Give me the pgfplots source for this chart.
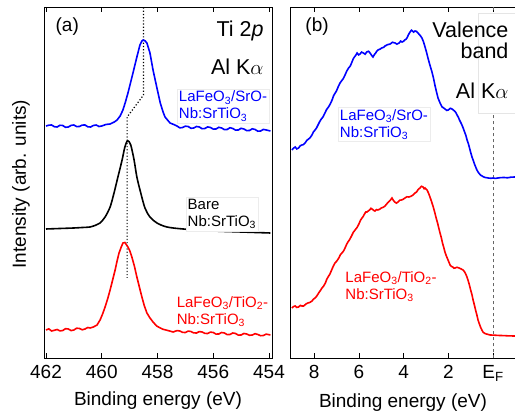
\documentclass[border=0pt]{standalone}
\usepackage{pgfplots}
\pgfplotsset{compat=1.18}
\usepackage{fontspec}
\setmainfont{Liberation Sans}
\newcommand{\fbig}{\fontsize{19}{22}\selectfont}
\newcommand{\flab}{\fontsize{21.5}{24}\selectfont}
\newcommand{\fsmall}{\fontsize{15}{17}\selectfont}
\pgfplotsset{
  panel/.style={
    scale only axis, height=351pt, axis line style={line width=0.8pt},
    x dir=reverse, ymin=0, ymax=351, ytick=\empty,
    tick align=inside, major tick length=5pt,
    xtick pos=both, every tick/.style={black, line width=0.8pt},
    xticklabel style={font=\fbig, yshift=-3pt},
    xlabel style={font=\fbig, yshift=-6pt},
  },
  curve/.style={line width=1.6pt},
}
\begin{document}
\begin{tikzpicture}
\useasboundingbox (0,0) rectangle (515pt,414pt);
\node[rotate=90, anchor=base, font=\fbig] at (26pt,230pt) {Intensity (arb. units)};

% (a) Ti 2p
\begin{axis}[panel, at={(44pt,55.5pt)}, anchor=south west, width=228pt,
  xmin=453.892, xmax=462.072,
  xtick={454,456,458,460,462}, xticklabels={454,456,458,460,462},
  xlabel={Binding energy (eV)}]
\addplot[black, dotted, line width=1.2pt] coordinates {(458.5,351)(458.5,263.5)(459.09,241.5)(459.09,80.5)};
\addplot[blue, curve] coordinates {
(462.0,232.5)(461.9,233.3)(461.8,233.5)(461.7,231.8)(461.6,231.5)(461.5,233.2)(461.4,233)(461.3,231.2)(461.2,231.5)(461.1,233.1)
(461.0,233.5)(460.9,231.9)(460.8,232)(460.7,233.4)(460.6,233.5)(460.5,231.7)(460.4,231.5)(460.3,233)(460.2,233.5)(460.1,232)
(460.0,232.5)(459.85,234)(459.7,234.5)(459.55,236.5)(459.45,238.5)(459.34,242.5)(459.24,248.5)(459.15,256.5)(459.06,265.5)
(458.97,275.5)(458.88,285.5)(458.81,293.5)(458.74,301.5)(458.63,313.5)(458.56,317.5)(458.51,318.5)(458.44,317.5)(458.38,315.5)
(458.27,305.5)(458.16,288.5)(458.02,270.5)(457.9,255.5)(457.8,246.5)(457.73,241.5)(457.55,235.5)(457.4,233.8)(457.3,232.5)
(457.2,230.6)(457.1,231)(457.0,232.3)(456.9,232)(456.8,230.2)(456.7,230.5)(456.6,232)(456.5,231.5)(456.4,229.8)(456.3,230)
(456.2,231.6)(456.1,231)(456.0,229.4)(455.9,229.5)(455.8,231.2)(455.7,230.5)(455.6,228.9)(455.5,229)(455.4,230.8)(455.3,230)
(455.2,228.4)(455.1,228.5)(455.0,230.2)(454.9,229.5)(454.8,227.9)(454.7,228)(454.6,229.7)(454.5,229)(454.4,227.3)(454.3,227.5)
(454.2,229.1)(454.1,228.5)(453.95,227.5)};
\addplot[black, curve, smooth] coordinates {
(462.0,129.5)(461.5,130)(461.0,130.5)(460.7,131)(460.42,131.5)(460.2,133.5)(460.06,135.5)(459.88,141.5)(459.7,151.5)
(459.56,165.5)(459.42,181.5)(459.27,198.5)(459.17,211.5)(459.07,217.8)(458.96,213.5)(458.84,198.5)(458.74,181.5)(458.6,165.5)
(458.45,150.5)(458.27,141.5)(458.02,135.5)(457.66,131.5)(457.08,129.5)(456.0,127.5)(455.0,126.5)(453.95,125.5)};
\addplot[red, curve] coordinates {
(462.0,28.5)(461.9,29.6)(461.8,27.5)(461.7,28.2)(461.6,29)(461.5,27.6)(461.4,28)(461.3,29.8)(461.2,29.5)(461.1,27.9)
(461.0,28.5)(460.9,30.3)(460.8,30)(460.7,28.7)(460.6,29.5)(460.5,31)(460.42,30.5)(460.3,31.5)(460.17,33.5)(460.06,38.5)
(459.97,44.5)(459.88,51.5)(459.79,59.5)(459.7,68.5)(459.61,78.5)(459.52,88.5)(459.45,97.5)(459.38,105.5)(459.3,111.5)
(459.24,115.5)(459.17,116)(459.11,113.5)(459.06,111.5)(458.99,107.5)(458.92,101.5)(458.83,92.5)(458.74,81.5)(458.65,71.5)
(458.56,61.5)(458.47,52.5)(458.38,45.5)(458.27,40.5)(458.16,36.5)(458.03,32.5)(457.9,30.5)(457.8,29.2)(457.7,28.5)(457.55,27.4)
(457.44,26.5)(457.3,27.9)(457.2,27.5)(457.1,26.1)(457.0,26)(456.9,27.4)(456.8,27)(456.7,25.6)(456.6,25.5)(456.5,26.9)
(456.4,26.5)(456.3,25.1)(456.2,25)(456.1,26.4)(456.0,26)(455.9,24.4)(455.8,24.5)(455.7,26)(455.6,25.5)(455.5,23.9)
(455.4,24)(455.3,25.5)(455.2,25)(455.1,23.4)(455.0,23.5)(454.9,25)(454.8,24.5)(454.7,23.2)(454.6,23.5)(454.5,24.8)
(454.4,24)(454.3,22.8)(454.2,23)(454.1,24.4)(453.95,23.5)};
\node[anchor=base west, font=\fbig] at (axis cs:461.78,326.5) {(a)};
\node[anchor=base east, font=\flab] at (axis cs:454.07,321.5) {Ti 2\textit{p}};
\node[anchor=base east, font=\flab] at (axis cs:454.07,283.5) {Al K$\alpha$};
\node[font=\fsmall, align=left, text=blue, fill=white, draw=gray!15, inner sep=2pt] at (axis cs:455.65,252.5)
  {LaFeO\textsubscript{3}/SrO-\\Nb:SrTiO\textsubscript{3}};
\node[font=\fsmall, align=left, fill=white, draw=gray!15, inner sep=2pt] at (axis cs:455.69,144.5)
  {Bare\\Nb:SrTiO\textsubscript{3}};
\node[font=\fsmall, align=left, text=red, fill=white, inner sep=1pt] at (axis cs:455.67,47)
  {LaFeO\textsubscript{3}/TiO\textsubscript{2}-\\Nb:SrTiO\textsubscript{3}};
\end{axis}

% (b) Valence band
\begin{axis}[panel, at={(290pt,55.5pt)}, anchor=south west, width=226pt,
  xmin=-1.029, xmax=9.083,
  xtick={0,2,4,6,8}, xticklabels={E\textsubscript{F},2,4,6,8},
  xlabel={Binding energy (eV)}]
\addplot[gray!80!black, dashed, line width=0.7pt] coordinates {(0,0)(0,351)};
\addplot[blue, curve] coordinates {
(9.0,208.5)(8.93,210.2)(8.85,211.5)(8.78,209.6)(8.7,210.5)(8.62,212.8)(8.55,213.5)(8.48,213.9)(8.41,215.5)(8.33,218.1)
(8.25,219.5)(8.17,221.2)(8.1,223.5)(8.03,226.8)(7.96,228.5)(7.9,230.4)(7.83,233.5)(7.75,237.1)(7.68,239.5)(7.6,241.8)
(7.52,245.5)(7.44,249.2)(7.36,251.5)(7.28,254.6)(7.2,258.5)(7.13,262.9)(7.06,265.5)(7.0,267.7)(6.93,271.5)(6.85,275.3)
(6.78,277.5)(6.7,279.9)(6.62,283.5)(6.54,287.6)(6.46,290.5)(6.38,292.7)(6.31,296.5)(6.25,299.8)(6.2,301.5)(6.14,303.2)
(6.08,305.5)(6.01,303.6)(5.95,304.5)(5.88,306.4)(5.8,305.5)(5.72,304.3)(5.65,306.5)(5.57,307.2)(5.5,305.5)(5.43,303.1)
(5.37,301.5)(5.31,303.8)(5.25,305.5)(5.2,307.3)(5.15,308.5)(5.06,309.3)(4.98,310.5)(4.9,311.1)(4.83,312.5)(4.72,313.8)
(4.6,314.5)(4.5,316.2)(4.38,315.5)(4.3,314.4)(4.2,315.5)(4.13,317.4)(4.07,316.5)(4.0,317.2)(3.95,318.5)(3.9,319.1)
(3.85,320.5)(3.78,323.9)(3.71,326.5)(3.65,328.3)(3.6,327.5)(3.55,326.4)(3.49,327.5)(3.42,327.1)(3.36,325.5)(3.27,323.4)
(3.18,320.5)(3.11,316.7)(3.04,311.5)(2.97,305.9)(2.91,300.5)(2.82,293.2)(2.73,286.5)(2.66,280.1)(2.6,273.5)(2.53,266.8)
(2.46,260.5)(2.37,255.6)(2.28,251.5)(2.22,250.8)(2.15,249.5)(2.07,248.1)(2.0,248.5)(1.91,250.2)(1.83,249.5)(1.77,248.3)
(1.72,247.5)(1.66,245.9)(1.61,243.5)(1.55,241.3)(1.5,238.5)(1.44,235.9)(1.39,233.5)(1.33,230.2)(1.27,226.5)(1.21,222.8)
(1.16,218.5)(1.1,214.6)(1.05,210.5)(1.0,206.2)(0.94,201.5)(0.88,197.8)(0.83,194.5)(0.77,191.2)(0.72,188.5)(0.66,186.2)
(0.6,184.5)(0.55,183.3)(0.49,182.5)(0.42,181.6)(0.35,181)(0.28,180.8)(0.22,180.5)(0.1,180.2)(0.0,180.5)(-0.1,180.1)
(-0.22,180.5)(-0.35,180.9)(-0.5,181)(-0.65,180.7)(-0.8,181.3)(-0.98,181.5)};
\addplot[red, curve] coordinates {
(9.0,50.5)(8.93,51.9)(8.85,52.5)(8.78,51.1)(8.7,51.5)(8.62,53.1)(8.55,52.5)(8.48,52.4)(8.42,53.5)(8.35,54.8)
(8.28,55.5)(8.19,56.1)(8.1,57.5)(8.03,59.4)(7.96,60.5)(7.88,62.6)(7.8,65.5)(7.72,68.1)(7.65,70.5)(7.58,72.4)
(7.5,75.5)(7.44,79.1)(7.38,81.5)(7.3,84.3)(7.22,88.5)(7.14,92.6)(7.07,95.5)(6.98,97.7)(6.9,100.5)(6.83,103.7)
(6.76,105.5)(6.69,107.4)(6.62,110.5)(6.55,114.1)(6.49,116.5)(6.41,119.1)(6.33,122.5)(6.25,126.2)(6.17,128.5)(6.08,131.1)
(6.0,134.5)(5.93,138.2)(5.86,140.5)(5.8,142.3)(5.75,144.5)(5.69,146.6)(5.64,146.5)(5.58,147.6)(5.52,148.5)(5.46,150.2)
(5.41,149.5)(5.34,148.1)(5.28,147.5)(5.21,148.9)(5.15,148.5)(5.07,149.3)(5.0,150.5)(4.91,151.2)(4.83,152.5)(4.75,154.7)
(4.68,156.5)(4.6,158.1)(4.52,160.5)(4.46,158.2)(4.4,156.5)(4.32,155.4)(4.25,156.5)(4.17,158.3)(4.1,158.5)(4.02,159.2)
(3.94,160.5)(3.85,161.7)(3.76,161.5)(3.67,162.2)(3.58,163.5)(3.5,165.3)(3.42,166.5)(3.35,168.9)(3.27,170.5)(3.2,172.2)
(3.13,171.5)(3.08,169.8)(3.04,170.5)(3.0,169.4)(2.95,168.5)(2.88,165.1)(2.82,161.5)(2.76,157.6)(2.7,153.5)(2.65,149.8)
(2.6,145.5)(2.54,140.2)(2.48,135.5)(2.43,130.8)(2.37,125.5)(2.31,120.6)(2.26,115.5)(2.2,110.8)(2.15,106.5)(2.09,102.7)
(2.03,99.5)(1.97,96.2)(1.92,93.5)(1.86,92.1)(1.8,91.5)(1.75,90.3)(1.7,90.5)(1.61,91.2)(1.52,90.5)(1.43,89.6)
(1.34,88.5)(1.28,86.9)(1.22,84.5)(1.17,81.8)(1.12,78.5)(1.06,73.9)(1.0,68.5)(0.94,63.7)(0.89,58.5)(0.83,53.2)
(0.78,48.5)(0.72,43.4)(0.67,38.5)(0.61,34.6)(0.56,31.5)(0.5,28.6)(0.45,26.5)(0.38,25.2)(0.3,24.5)(0.22,24.1)
(0.13,23.5)(0.0,23.4)(-0.15,23.2)(-0.3,23)(-0.5,22.9)(-0.7,22.6)(-0.98,22.5)};
\draw[gray!20, fill=white] (axis cs:0.67,245.5) rectangle (axis cs:-1.1,345.5);
\node[anchor=base west, font=\fbig] at (axis cs:8.55,326.5) {(b)};
\node[anchor=base east, font=\flab] at (axis cs:-0.85,320.5) {Valence};
\node[anchor=base east, font=\flab] at (axis cs:-0.85,299.5) {band};
\node[anchor=base east, font=\flab] at (axis cs:-0.85,259.5) {Al K$\alpha$};
\node[font=\fsmall, align=left, text=blue, fill=white, draw=gray!15, inner sep=2pt] at (axis cs:4.88,234)
  {LaFeO\textsubscript{3}/SrO-\\Nb:SrTiO\textsubscript{3}};
\node[font=\fsmall, align=left, text=red, inner sep=1pt] at (axis cs:4.56,72)
  {LaFeO\textsubscript{3}/TiO\textsubscript{2}-\\Nb:SrTiO\textsubscript{3}};
\end{axis}
\end{tikzpicture}
\end{document}
